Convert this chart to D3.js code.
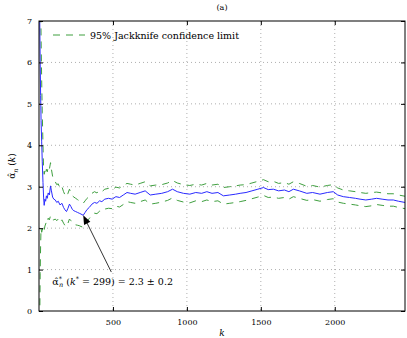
<!DOCTYPE html>
<html>
<head>
<meta charset="utf-8">
<title>Jackknife</title>
<script src="https://cdnjs.cloudflare.com/ajax/libs/d3/7.8.5/d3.min.js"></script>
<style>
  body { margin: 0; background: #fff; }
  text { font-family: "DejaVu Serif", serif; fill: #000; }
</style>
</head>
<body>
<script>
// k, estimador y limites de confianza
var kValues = [1, 3, 5, 8, 11, 14, 18, 22, 27, 31, 35, 40, 45, 50, 56, 62, 70, 78, 84, 92,
  100, 110, 120, 130, 142, 155, 166, 176, 186, 196, 206, 216, 226, 236, 248, 260, 272, 284, 299,
  312, 325, 340, 358, 375, 392, 410, 425, 445, 470, 495, 520, 545, 570, 595, 620, 650, 684, 718,
  752, 790, 830, 870, 903, 935, 977, 1020, 1060, 1100, 1135, 1170, 1210, 1247, 1290, 1330, 1360,
  1400, 1440, 1480, 1518, 1550, 1585, 1620, 1660, 1690, 1720, 1760, 1811, 1850, 1900, 1950, 1990,
  2020, 2058, 2100, 2140, 2171, 2210, 2250, 2283, 2320, 2360, 2396, 2430, 2475];
var alphaHat = [9.5, 8.0, 7.0, 6.0, 5.2, 4.6, 4.1, 3.6, 3.1, 2.75, 2.55, 2.7, 2.65, 2.78, 2.72, 2.85, 2.8, 3.02, 2.9, 2.75,
  2.7, 2.68, 2.62, 2.65, 2.56, 2.6, 2.5, 2.44, 2.4, 2.48, 2.58, 2.52, 2.45, 2.42, 2.4, 2.38, 2.36, 2.34, 2.31,
  2.38, 2.45, 2.5, 2.58, 2.62, 2.6, 2.66, 2.64, 2.7, 2.72, 2.7, 2.76, 2.74, 2.8, 2.86, 2.84, 2.82, 2.86, 2.9,
  2.8, 2.82, 2.84, 2.88, 2.94, 2.88, 2.84, 2.82, 2.86, 2.84, 2.88, 2.84, 2.86, 2.78, 2.8, 2.82, 2.84,
  2.86, 2.9, 2.94, 2.98, 2.93, 2.94, 2.9, 2.92, 2.88, 2.94, 2.9, 2.84, 2.86, 2.82, 2.86, 2.88,
  2.8, 2.76, 2.74, 2.72, 2.7, 2.68, 2.7, 2.72, 2.7, 2.68, 2.68, 2.65, 2.62];
var upperLimit = [20, 15, 11, 9.0, 7.6, 6.6, 5.6, 4.8, 4.0, 3.45, 3.3, 3.38, 3.3, 3.42, 3.36, 3.48, 3.42, 3.58, 3.42, 3.25,
  3.18, 3.12, 3.05, 3.07, 2.96, 3.0, 2.88, 2.8, 2.76, 2.84, 2.94, 2.86, 2.78, 2.75, 2.72, 2.69, 2.66, 2.64, 2.6,
  2.66, 2.72, 2.77, 2.84, 2.88, 2.85, 2.91, 2.88, 2.94, 2.96, 2.93, 2.99, 2.97, 3.03, 3.08, 3.06, 3.04, 3.08, 3.12,
  3.02, 3.04, 3.05, 3.09, 3.15, 3.09, 3.05, 3.03, 3.06, 3.04, 3.08, 3.04, 3.06, 2.98, 3.0, 3.02, 3.04,
  3.05, 3.09, 3.13, 3.17, 3.12, 3.13, 3.08, 3.1, 3.06, 3.12, 3.08, 3.01, 3.03, 2.99, 3.03, 3.05,
  2.97, 2.92, 2.9, 2.88, 2.86, 2.84, 2.86, 2.87, 2.85, 2.83, 2.83, 2.8, 2.77];
var lowerLimit = [-3, -2, -0.2, 0.9, 1.6, 2.0, 1.9, 1.95, 2.0, 2.03, 1.95, 2.05, 2.1, 2.15, 2.12, 2.24, 2.2, 2.3, 2.28, 2.2,
  2.2, 2.22, 2.18, 2.22, 2.14, 2.2, 2.12, 2.06, 2.04, 2.12, 2.22, 2.18, 2.12, 2.09, 2.08, 2.07, 2.06, 2.04, 2.02,
  2.1, 2.18, 2.23, 2.32, 2.36, 2.35, 2.41, 2.4, 2.46, 2.48, 2.47, 2.53, 2.51, 2.57, 2.64, 2.62, 2.6, 2.64, 2.68,
  2.58, 2.6, 2.63, 2.67, 2.73, 2.67, 2.63, 2.61, 2.66, 2.64, 2.68, 2.64, 2.66, 2.58, 2.6, 2.62, 2.64,
  2.67, 2.71, 2.75, 2.79, 2.74, 2.75, 2.72, 2.74, 2.7, 2.76, 2.72, 2.67, 2.69, 2.65, 2.69, 2.71,
  2.63, 2.6, 2.58, 2.56, 2.54, 2.52, 2.54, 2.57, 2.55, 2.53, 2.53, 2.5, 2.47];

var xTicks = [500, 1000, 1500, 2000];
var yTicks = [0, 1, 2, 3, 4, 5, 6, 7];
var kStar = 299, alphaStar = 2.31;

var width = 407, height = 338;
var margin = {top: 21, right: 2, bottom: 27, left: 39};
var w = width - margin.left - margin.right,
    h = height - margin.top - margin.bottom;

var x = d3.scaleLinear().domain([0, 2475]).range([0, w]);
var y = d3.scaleLinear().domain([0, 7]).range([h, 0]);

var svg = d3.select("body").append("svg")
    .attr("width", width)
    .attr("height", height);

var g = svg.append("g").attr("transform", "translate(" + margin.left + "," + margin.top + ")");

g.append("clipPath").attr("id", "clip")
  .append("rect").attr("width", w).attr("height", h);

// rejilla punteada
g.selectAll("line.gx").data(xTicks).enter().append("line")
    .attr("x1", d => x(d)).attr("x2", d => x(d))
    .attr("y1", 0).attr("y2", h)
    .attr("stroke", "#9a9a9a").attr("stroke-width", 0.8).attr("stroke-dasharray", "1,3");
g.selectAll("line.gy").data(yTicks.slice(1, -1)).enter().append("line")
    .attr("x1", 0).attr("x2", w)
    .attr("y1", d => y(d)).attr("y2", d => y(d))
    .attr("stroke", "#9a9a9a").attr("stroke-width", 0.8).attr("stroke-dasharray", "1,3");

var pts = kValues.map((k, i) => ({k: k, a: alphaHat[i], u: upperLimit[i], l: lowerLimit[i]}));

var line = key => d3.line().x(d => x(d.k)).y(d => y(d[key]));

var plot = g.append("g").attr("clip-path", "url(#clip)");
plot.append("path").datum(pts).attr("d", line("u"))
    .attr("fill", "none").attr("stroke", "#3f9f3f").attr("stroke-width", 1).attr("stroke-dasharray", "7,6");
plot.append("path").datum(pts).attr("d", line("l"))
    .attr("fill", "none").attr("stroke", "#3f9f3f").attr("stroke-width", 1).attr("stroke-dasharray", "7,6");
plot.append("path").datum(pts).attr("d", line("a"))
    .attr("fill", "none").attr("stroke", "#2a2aff").attr("stroke-width", 1);

// ejes con ticks hacia adentro
var fmt = d3.format("d");
g.append("g").attr("transform", "translate(0," + h + ")")
    .call(d3.axisBottom(x).tickValues(xTicks).tickFormat(fmt).tickSizeInner(-4).tickSizeOuter(0).tickPadding(8))
    .call(s => s.select(".domain").remove());
g.append("g")
    .call(d3.axisTop(x).tickValues(xTicks).tickSizeInner(-4).tickSizeOuter(0).tickFormat(""))
    .call(s => s.select(".domain").remove());
g.append("g")
    .call(d3.axisLeft(y).tickValues(yTicks).tickFormat(fmt).tickSizeInner(-4).tickSizeOuter(0).tickPadding(7))
    .call(s => s.select(".domain").remove());
g.append("g").attr("transform", "translate(" + w + ",0)")
    .call(d3.axisRight(y).tickValues(yTicks).tickSizeInner(-4).tickSizeOuter(0).tickFormat(""))
    .call(s => s.select(".domain").remove());
g.selectAll(".tick text").style("font-family", "DejaVu Serif").style("font-size", "8px");

g.append("rect").attr("width", w).attr("height", h)
    .attr("fill", "none").attr("stroke", "#000").attr("stroke-width", 1);

// leyenda
g.append("line").attr("x1", 14).attr("x2", 46).attr("y1", 14).attr("y2", 14)
    .attr("stroke", "#3f9f3f").attr("stroke-width", 1).attr("stroke-dasharray", "7,6");
g.append("text").attr("x", 51).attr("y", 17.5).style("font-size", "9.5px")
    .text("95% Jackknife confidence limit");

// anotacion con flecha
var tipX = x(kStar), tipY = y(alphaStar);
var tailX = x(489), tailY = y(0.94);
var ang = Math.atan2(tipY - tailY, tipX - tailX);
g.append("line").attr("x1", tailX).attr("y1", tailY)
    .attr("x2", tipX - 7 * Math.cos(ang)).attr("y2", tipY - 7 * Math.sin(ang))
    .attr("stroke", "#000").attr("stroke-width", 0.8);
var hl = 9, hw = 3.5;
var bx = tipX - hl * Math.cos(ang), by = tipY - hl * Math.sin(ang);
g.append("path")
    .attr("d", "M" + tipX + "," + tipY +
      "L" + (bx - hw * Math.sin(ang)) + "," + (by + hw * Math.cos(ang)) +
      "L" + (bx + hw * Math.sin(ang)) + "," + (by - hw * Math.cos(ang)) + "Z")
    .attr("fill", "#000");

var ann = g.append("text").attr("x", x(90)).attr("y", y(0.63)).style("font-size", "9.5px");
ann.append("tspan").text("\u03b1\u0302");
ann.append("tspan").attr("dy", -4).style("font-size", "6.5px").text("*");
ann.append("tspan").attr("dx", -3).attr("dy", 6.5).style("font-size", "6.5px").style("font-style", "italic").text("n");
ann.append("tspan").attr("dy", -2.5).text(" (");
ann.append("tspan").style("font-style", "italic").text("k");
ann.append("tspan").attr("dy", -4).style("font-size", "6.5px").text("*");
ann.append("tspan").attr("dy", 4).text(" = 299) = 2.3 \u00b1 0.2");

// titulos
svg.append("text").attr("x", margin.left + w / 2).attr("y", 10).attr("text-anchor", "middle")
    .style("font-size", "8px").text("(a)");
svg.append("text").attr("x", margin.left + w / 2).attr("y", 336).attr("text-anchor", "middle")
    .style("font-size", "9px").style("font-style", "italic").text("k");

var yl = svg.append("text").attr("transform", "translate(15," + (margin.top + h / 2) + ") rotate(-90)")
    .attr("text-anchor", "middle").style("font-size", "9px");
yl.append("tspan").text("\u03b1\u0302");
yl.append("tspan").attr("dy", 2.5).style("font-size", "6.5px").style("font-style", "italic").text("n");
yl.append("tspan").attr("dy", -2.5).text(" (");
yl.append("tspan").style("font-style", "italic").text("k");
yl.append("tspan").text(")");
</script>
</body>
</html>
